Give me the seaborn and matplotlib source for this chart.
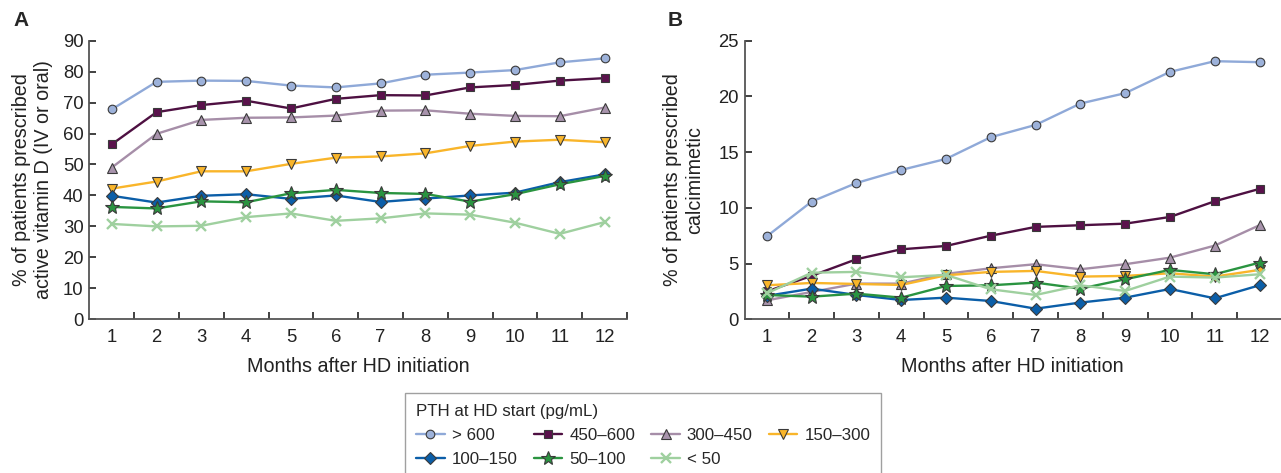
import matplotlib
matplotlib.use("Agg")
import matplotlib.pyplot as plt
from matplotlib.ticker import FixedLocator
import seaborn as sns
import pandas as pd
import numpy as np

months = list(range(1, 13))
groups = ["> 600", "450\u2013600", "300\u2013450", "150\u2013300", "100\u2013150", "50\u2013100", "< 50"]

vitd_gt600 = [67.8, 76.7, 77.1, 77.0, 75.5, 74.9, 76.2, 79.0, 79.7, 80.5, 83.0, 84.3]
vitd_450_600 = [56.5, 66.9, 69.2, 70.6, 68.1, 71.2, 72.4, 72.3, 74.9, 75.7, 77.1, 77.9]
vitd_300_450 = [49.0, 59.9, 64.4, 65.1, 65.2, 65.8, 67.4, 67.5, 66.4, 65.7, 65.6, 68.4]
vitd_150_300 = [42.2, 44.5, 47.8, 47.8, 50.2, 52.2, 52.6, 53.6, 56.0, 57.4, 58.0, 57.2]
vitd_100_150 = [39.9, 37.7, 39.9, 40.4, 38.9, 40.0, 37.9, 39.0, 40.0, 40.9, 44.3, 46.8]
vitd_50_100 = [36.3, 35.8, 38.1, 37.8, 40.7, 41.8, 40.8, 40.5, 38.0, 40.4, 43.6, 46.3]
vitd_lt50 = [30.8, 30.0, 30.2, 33.0, 34.2, 31.8, 32.6, 34.2, 33.8, 31.2, 27.6, 31.4]

calc_gt600 = [7.45, 10.56, 12.23, 13.4, 14.39, 16.34, 17.44, 19.36, 20.29, 22.2, 23.16, 23.07]
calc_450_600 = [2.5, 3.9, 5.39, 6.28, 6.58, 7.5, 8.29, 8.44, 8.58, 9.18, 10.59, 11.7]
calc_300_450 = [1.7, 2.45, 3.2, 3.2, 4.07, 4.58, 4.94, 4.49, 4.94, 5.53, 6.61, 8.44]
calc_150_300 = [3.05, 3.26, 3.17, 3.08, 3.95, 4.25, 4.34, 3.83, 3.89, 4.13, 3.83, 4.43]
calc_100_150 = [2.1, 2.75, 2.18, 1.73, 1.94, 1.64, 0.95, 1.5, 1.94, 2.72, 1.88, 3.05]
calc_50_100 = [2.18, 2.03, 2.3, 1.94, 2.99, 3.05, 3.29, 2.75, 3.59, 4.43, 4.04, 5.08]
calc_lt50 = [2.33, 4.18, 4.25, 3.77, 3.98, 2.69, 2.18, 3.05, 2.54, 3.83, 3.74, 4.04]

vitd = [vitd_gt600, vitd_450_600, vitd_300_450, vitd_150_300, vitd_100_150, vitd_50_100, vitd_lt50]
calc = [calc_gt600, calc_450_600, calc_300_450, calc_150_300, calc_100_150, calc_50_100, calc_lt50]

line_colors = ["#8fa9d8", "#4e1042", "#a68ea8", "#f9b52a", "#0b5ea8", "#2a9440", "#9fd09f"]
face_colors = ["#9db2da", "#5a124c", "#a893ac", "#f9b52a", "#0b5ea8", "#2a9440", "#9fd09f"]
markers = ["o", "s", "^", "v", "D", "*", "x"]
msizes = [6.2, 5.6, 7.3, 7.3, 6.0, 10.5, 7.5]

sns.set_style("white")
plt.rcParams["font.family"] = ["Liberation Sans", "DejaVu Sans"]

fig = plt.figure(figsize=(12.81, 4.73), dpi=100)
axA = fig.add_axes([89.3 / 1281, 0.325, (627 - 89.3) / 1281, 0.589])
axB = fig.add_axes([744.5 / 1281, 0.325, (1281 - 744.5) / 1281, 0.589])

def draw(ax, data, ymax, ystep, xmax):
    for g, vals, lc, fc, mk, ms in zip(groups, data, line_colors, face_colors, markers, msizes):
        df = pd.DataFrame({"month": months, "value": vals})
        if mk == "x":
            sns.lineplot(data=df, x="month", y="value", ax=ax, color=lc, marker=mk,
                         markersize=ms, markeredgecolor=lc, markeredgewidth=1.7,
                         linewidth=1.7, label=g, clip_on=False)
        else:
            sns.lineplot(data=df, x="month", y="value", ax=ax, color=lc, marker=mk,
                         markersize=ms, markerfacecolor=fc, markeredgecolor="#3a3a3a",
                         markeredgewidth=0.8, linewidth=1.7, label=g, clip_on=False)
    ax.set_xlim(0.5, xmax)
    ax.set_ylim(0, ymax)
    ax.set_xticks(months)
    ax.set_xticklabels([str(m) for m in months])
    ax.xaxis.set_minor_locator(FixedLocator([m + 0.5 for m in months]))
    ax.tick_params(axis="x", which="major", length=0, pad=7, labelsize=13.3, colors="#222222")
    ax.tick_params(axis="x", which="minor", direction="in", length=5.2, width=1.3,
                   color="#333333", bottom=True)
    ax.set_yticks(np.arange(0, ymax + 0.01, ystep))
    ax.tick_params(axis="y", which="major", direction="in", length=5.0, width=1.3,
                   color="#333333", pad=4, labelsize=13.3, labelcolor="#222222", left=True)
    for s in ["top", "right"]:
        ax.spines[s].set_visible(False)
    for s in ["left", "bottom"]:
        ax.spines[s].set_color("#555555")
        ax.spines[s].set_linewidth(1.3)
    ax.set_xlabel("Months after HD initiation", fontsize=14.2, color="#222222", labelpad=8)
    ax.grid(False)
    ax.legend_.remove()

draw(axA, vitd, 90, 10, 12.5)
draw(axB, calc, 25, 5, 12.48)
axA.set_ylabel("% of patients prescribed\nactive vitamin D (IV or oral)", fontsize=14.2,
               color="#222222", labelpad=7)
axB.set_ylabel("% of patients prescribed\ncalcimimetic", fontsize=14.2,
               color="#222222", labelpad=10)

fig.text(21 / 1281, 1 - 20 / 473, "A", fontsize=15, fontweight="bold", va="center", ha="center")
fig.text(675 / 1281, 1 - 20 / 473, "B", fontsize=15, fontweight="bold", va="center", ha="center")

handles, labels = axA.get_legend_handles_labels()
order = [0, 4, 1, 5, 2, 6, 3]
handles = [handles[i] for i in order]
labels = [labels[i] for i in order]
leg = fig.legend(handles, labels, title="PTH at HD start (pg/mL)", ncol=4,
                 loc="upper left", bbox_to_anchor=(405 / 1281, 1 - 393 / 473),
                 fontsize=12.2, title_fontsize=12.2, frameon=True, fancybox=False,
                 handlelength=1.7, handletextpad=0.4, columnspacing=0.95,
                 labelspacing=0.52, borderpad=0.65, borderaxespad=0, alignment="left")
leg.get_frame().set_edgecolor("#888888")
leg.get_frame().set_linewidth(1.0)

fig.savefig("out.png", dpi=100)
